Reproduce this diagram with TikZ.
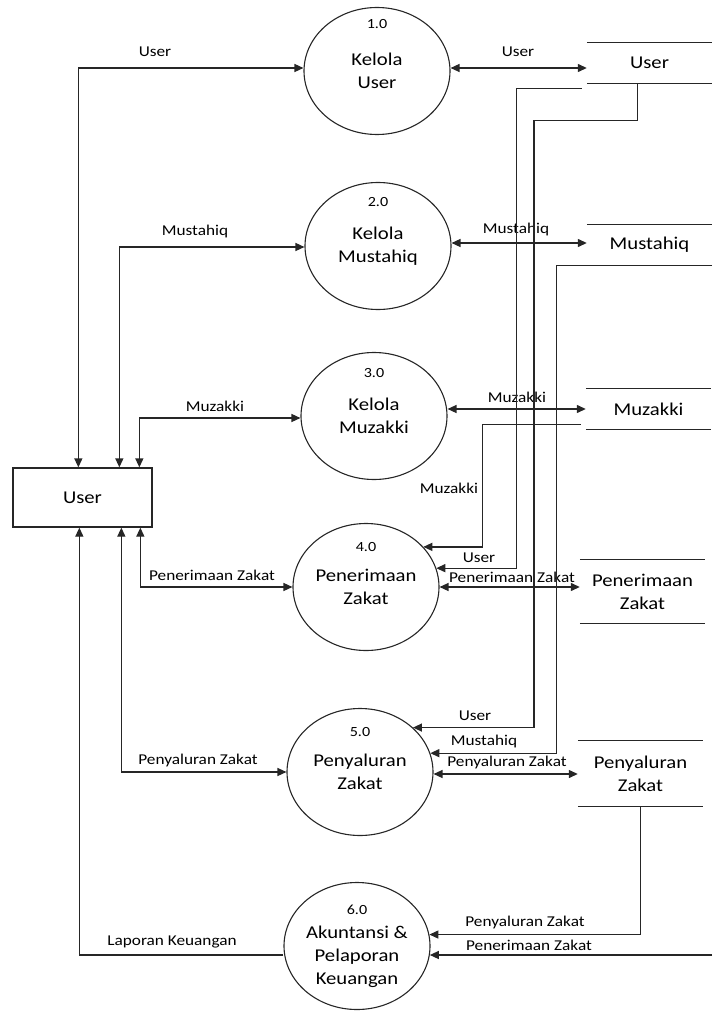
\documentclass[tikz,border=0pt]{standalone}
\usepackage{fontspec}
\setmainfont{Carlito}[FakeStretch=1.15]
\usetikzlibrary{arrows.meta, shapes.geometric, positioning, calc}

\begin{document}
\begin{tikzpicture}[x=1pt, y=-1pt,
  line/.style={line width=1.3pt, draw=black!85},
  flow/.style={line, -{Triangle[length=9pt,width=8pt]}},
  dbl/.style={line, {Triangle[length=9pt,width=8pt]}-{Triangle[length=9pt,width=8pt]}},
  proc/.style={ellipse, draw=black!85, line width=1.1pt, minimum width=146pt, minimum height=127pt,
    inner sep=0pt, align=center, font=\fontsize{18}{23}\selectfont},
  ptext/.style={inner sep=0pt, align=center, font=\fontsize{18}{23}\selectfont},
  store/.style={minimum width=125pt, minimum height=40pt, inner sep=0pt, align=center,
    font=\fontsize{18}{23}\selectfont},
  entity/.style={draw=black!85, line width=1.3pt, minimum width=139pt, minimum height=59pt,
    font=\fontsize{18}{22}\selectfont},
  num/.style={font=\fontsize{14}{16}\selectfont, inner sep=0pt},
  lbl/.style={font=\fontsize{15}{17}\selectfont, inner sep=0pt}]
\useasboundingbox (0,0) rectangle (712,1011);

% external entity
\node[entity] (user) at (82.5,497.5) {User};

% processes
\node[proc] (p1) at (377,71) {Kelola\\User};
\node[proc] (p2) at (378,246) {Kelola\\Mustahiq};
\node[proc] (p3) at (374,416) {Kelola\\Muzakki};
\node[proc] (p4) at (366,587) {Penerimaan\\Zakat};
\node[proc] (p5) at (360,772) {Penyaluran\\Zakat};
\node[proc] (p6) at (357,946) {};
\node[ptext] (t6) at ([yshift=-11]p6.center) {Akuntansi \&\\Pelaporan\\Keuangan};

\foreach \p/\n/\d in {p1/1.0/47, p2/2.0/44, p3/3.0/43, p4/4.0/40, p5/5.0/40, p6/6.0/36} {
  \node[num] (n\p) at ([yshift=\d]\p.center) {\n};
}

% data stores
\node[store] (su) at (649.5,63) {User};
\node[store] (sm) at (649.5,245) {Mustahiq};
\node[store] (sk) at (648.5,409) {Muzakki};
\node[store, minimum height=63pt] (sp) at (642.5,591.5) {Penerimaan\\Zakat};
\node[store, minimum height=65pt] (sy) at (640.5,773.5) {Penyaluran\\Zakat};

\foreach \s in {su,sm,sk,sp,sy} {
  \draw[line] (\s.north west) -- (\s.north east) (\s.south west) -- (\s.south east);
}

% user <-> processes
\draw[dbl] ([xshift=66]user.north west) |- ([yshift=3]p1.west);
\draw[dbl] ([xshift=107]user.north west) |- ([yshift=-1]p2.west);
\draw[dbl] ([xshift=127]user.north west) |- ([yshift=-2]p3.west);
\draw[dbl] ([xshift=128]user.south west) |- (p4.west);
\draw[dbl] ([xshift=109]user.south west) |- (p5.west);
\draw[flow] ([yshift=-9]p6.west) -| ([xshift=67]user.south west);

\node[lbl] (lu1) at (155,52) {User};
\node[lbl] (lu2) at (195,232) {Mustahiq};
\node[lbl] (lu3) at (215,406) {Muzakki};
\node[lbl] (lu4) at (212,575) {Penerimaan Zakat};
\node[lbl] (lu5) at (198,760) {Penyaluran Zakat};
\node[lbl] (lu6) at (172,942) {Laporan Keuangan};

% processes <-> stores
\draw[dbl] ([yshift=3]p1.east) -- ([yshift=3]p1.east -| su.west);
\draw[dbl] ([yshift=3]p2.east) -- ([yshift=3]p2.east -| sm.west);
\draw[dbl] ([yshift=7]p3.east) -- ([yshift=7]p3.east -| sk.west);
\draw[dbl] (p4.east) -- (p4.east -| sp.west);
\draw[dbl] ([yshift=-2]p5.east) -- ([yshift=-2]p5.east -| sy.west);

\node[lbl] (ls1) at (518,52) {User};
\node[lbl] (ls2) at (516,230) {Mustahiq};
\node[lbl] (ls3) at (517,397) {Muzakki};
\node[lbl] (ls4) at (512,577) {Penerimaan Zakat};
\node[lbl] (ls5) at (507,762) {Penyaluran Zakat};

% stores -> processes
\draw[flow] ([shift={(-5,5)}]su.south west) -| ([xshift=80]p4.15) -- (p4.15);
\draw[flow] ([xshift=51]su.south west) -- ++(0,37) -| ([xshift=121]p5.40) -- (p5.40);
\draw[flow] (sm.south east) -| ([xshift=126]p5.15) -- (p5.15);
\draw[flow] ([shift={(-5,-5)}]sk.south west) -| ([xshift=59]p4.35) -- (p4.35);
\draw[flow] (sy.south) |- (p6.9);
\coordinate (pzout) at (712,955);
\draw[flow] (pzout) -- (pzout -| p6.-7);

\node[lbl] (lx1) at (449,488) {Muzakki};
\node[lbl] (lx2) at (479,558) {User};
\node[lbl] (lx3) at (475,716) {User};
\node[lbl] (lx4) at (484,741) {Mustahiq};
\node[lbl] (lx5) at (525,922) {Penyaluran Zakat};
\node[lbl] (lx6) at (529,945) {Penerimaan Zakat};
\end{tikzpicture}
\end{document}
